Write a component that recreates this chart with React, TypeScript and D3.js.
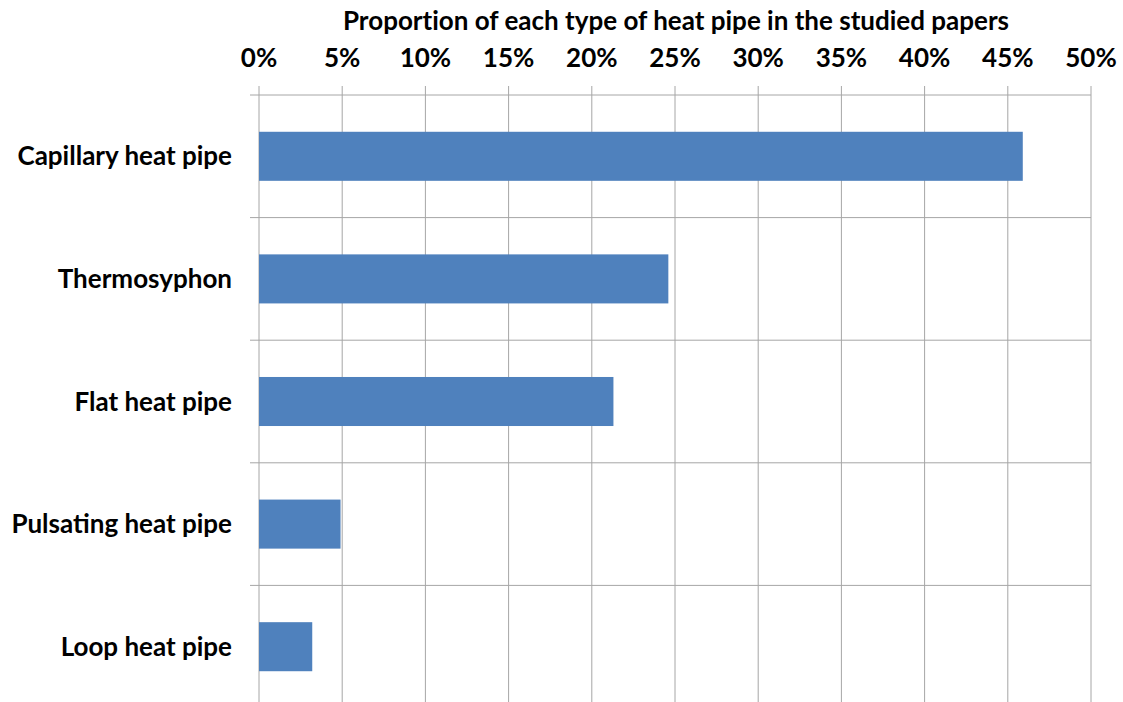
import { useEffect, useRef } from 'react'
import * as d3 from 'd3'

const categories = [
  'Capillary heat pipe',
  'Thermosyphon',
  'Flat heat pipe',
  'Pulsating heat pipe',
  'Loop heat pipe',
]
const proportions = [0.459, 0.246, 0.213, 0.049, 0.032]
const xTicks = [0, 0.05, 0.1, 0.15, 0.2, 0.25, 0.3, 0.35, 0.4, 0.45, 0.5]
const title = 'Proportion of each type of heat pipe in the studied papers'

export default function App() {
  const svgRef = useRef<SVGSVGElement>(null)

  useEffect(() => {
    if (!svgRef.current) return
    const svg = d3.select(svgRef.current)
    svg.selectAll('*').remove()

    const width = 1123
    const height = 702
    const margin = { top: 95, right: 32, bottom: -6, left: 259 }
    const innerWidth = width - margin.left - margin.right
    const innerHeight = height - margin.top - margin.bottom
    const font = 'Lato, "Open Sans", sans-serif'
    const gridColor = '#a6a6a6'

    const g = svg.append('g').attr('transform', `translate(${margin.left},${margin.top})`)

    const x = d3.scaleLinear().domain([0, 0.5]).range([0, innerWidth])
    const y = d3.scaleBand().domain(categories).range([0, innerHeight]).paddingInner(0.6).paddingOuter(0.3)
    const step = y.step()

    // vertical gridlines (with tick marks above the axis)
    g.selectAll('line.vgrid')
      .data(xTicks)
      .join('line')
      .attr('class', 'vgrid')
      .attr('x1', d => x(d))
      .attr('x2', d => x(d))
      .attr('y1', -9)
      .attr('y2', innerHeight)
      .attr('stroke', gridColor)
      .attr('stroke-width', 1)

    // category boundary lines
    const bounds = d3.range(categories.length + 1).map(i => i * step)
    g.selectAll('line.hgrid')
      .data(bounds)
      .join('line')
      .attr('class', 'hgrid')
      .attr('x1', -9)
      .attr('x2', innerWidth)
      .attr('y1', d => d)
      .attr('y2', d => d)
      .attr('stroke', gridColor)
      .attr('stroke-width', 1)

    // bars
    g.selectAll('rect.bar')
      .data(categories)
      .join('rect')
      .attr('class', 'bar')
      .attr('x', 0)
      .attr('y', d => y(d)!)
      .attr('width', (d, i) => x(proportions[i]))
      .attr('height', y.bandwidth())
      .attr('fill', '#4f81bd')

    // top axis labels
    g.selectAll('text.xtick')
      .data(xTicks)
      .join('text')
      .attr('class', 'xtick')
      .attr('x', d => x(d))
      .attr('y', -28)
      .attr('text-anchor', 'middle')
      .attr('font-family', font)
      .attr('font-weight', 'bold')
      .attr('font-size', '26px')
      .attr('fill', '#000')
      .text(d => d3.format('.0%')(d))

    // category labels
    g.selectAll('text.cat')
      .data(categories)
      .join('text')
      .attr('class', 'cat')
      .attr('x', -27)
      .attr('y', d => y(d)! + y.bandwidth() / 2)
      .attr('dy', '0.35em')
      .attr('text-anchor', 'end')
      .attr('font-family', font)
      .attr('font-weight', 'bold')
      .attr('font-size', '26px')
      .attr('fill', '#000')
      .text(d => d)

    // title
    svg.append('text')
      .attr('x', 676)
      .attr('y', 30)
      .attr('text-anchor', 'middle')
      .attr('font-family', font)
      .attr('font-weight', 'bold')
      .attr('font-size', '26px')
      .attr('fill', '#000')
      .style('font-variant-ligatures', 'none')
      .text(title)
  }, [])

  return (
    <svg
      ref={svgRef}
      width={1123}
      height={702}
      style={{ position: 'absolute', left: 0, top: 0, background: '#fff' }}
    />
  )
}
